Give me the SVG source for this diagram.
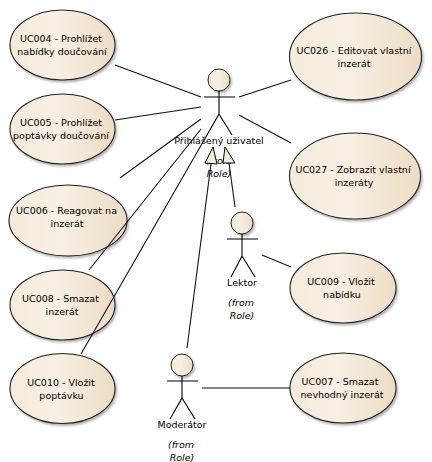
<svg xmlns="http://www.w3.org/2000/svg" width="432" height="462" viewBox="0 0 432 462">
<style>
text{font-family:"DejaVu Sans",Verdana,sans-serif;font-size:9.5px;fill:#000;text-anchor:middle}
.from{font-style:italic;font-size:9.5px}
.uc{fill:url(#g);stroke:#222;stroke-width:1.1;filter:url(#s)}
.head{fill:url(#g);stroke:#222;stroke-width:1;filter:url(#s)}
.l{stroke:#000;stroke-width:1.1;fill:none}
.c{stroke:#111;stroke-width:1.1;fill:none}
.tri{fill:#f6ecdd;stroke:#000;stroke-width:1}
</style>
<defs>
<linearGradient id="g" x1="0" y1="0" x2="1" y2="0"><stop offset="0" stop-color="#f5ebdc"/><stop offset=".45" stop-color="#f8f0e4"/><stop offset="1" stop-color="#eddcc4"/></linearGradient>
<filter id="s" x="-10%" y="-10%" width="125%" height="125%"><feDropShadow dx="1.5" dy="2" stdDeviation="1.2" flood-color="#000" flood-opacity=".3"/></filter>
</defs>
<rect width="432" height="462" fill="#fff"/>
<g id="UC004"><ellipse class="uc" cx="62.5" cy="45" rx="52.5" ry="35"/><text x="61" y="42">UC004 - Prohlížet</text><text x="62" y="55">nabídky doučování</text></g>
<g id="UC005"><ellipse class="uc" cx="62.5" cy="129" rx="52.5" ry="35"/><text x="61" y="126">UC005 - Prohlížet</text><text x="61" y="139">poptávky doučování</text></g>
<g id="UC006"><ellipse class="uc" cx="68" cy="220.5" rx="59" ry="35.5"/><text x="66.5" y="214">UC006 - Reagovat na</text><text x="67" y="227">inzerát</text></g>
<g id="UC008"><ellipse class="uc" cx="62.5" cy="305" rx="52.5" ry="35"/><text x="60.5" y="302">UC008 - Smazat</text><text x="62" y="315">inzerát</text></g>
<g id="UC010"><ellipse class="uc" cx="62.5" cy="388.5" rx="52.5" ry="35"/><text x="61" y="386">UC010 - Vložit</text><text x="61.5" y="399">poptávku</text></g>
<g id="UC026"><ellipse class="uc" cx="355.5" cy="56.5" rx="66" ry="43.5"/><text x="354" y="54">UC026 - Editovat vlastní</text><text x="354" y="67">inzerát</text></g>
<g id="UC027"><ellipse class="uc" cx="355" cy="176" rx="65.5" ry="43"/><text x="353" y="173">UC027 - Zobrazit vlastní</text><text x="354" y="186">inzeráty</text></g>
<g id="UC009"><ellipse class="uc" cx="343" cy="288" rx="53" ry="35"/><text x="341" y="285">UC009 - Vložit</text><text x="342" y="298">nabídku</text></g>
<g id="UC007"><ellipse class="uc" cx="343" cy="388" rx="53" ry="35"/><text x="340" y="385">UC007 - Smazat</text><text x="342" y="398">nevhodný inzerát</text></g>
<g id="actor-prihlaseny"><circle class="head" cx="219" cy="80" r="11"/><path class="l" d="M204 97H235M219 91V114L207 135M219 114L232 135"/><text x="219" y="144">Přihlášený uživatel</text><text class="from" x="219" y="164">(from</text><text class="from" x="219" y="177">Role)</text></g>
<g id="actor-lektor"><circle class="head" cx="242" cy="223" r="11"/><path class="l" d="M227 239H258M242 234V256L231 277M242 256L255 277"/><text x="242" y="286">Lektor</text><text class="from" x="241" y="306">(from</text><text class="from" x="242" y="319">Role)</text></g>
<g id="actor-moderator"><circle class="head" cx="182" cy="365" r="11"/><path class="l" d="M167 381H198M182 376V398L170 419M182 398L195 419"/><text x="182" y="428">Moderátor</text><text class="from" x="181" y="448">(from</text><text class="from" x="182" y="461">Role)</text></g>
<g id="connectors">
<path class="c" d="M115 65L201 97M115 120L201 107M120 178L201 119M89 270L201 129M81 354L207 135M239 97L291 80M239 115L291 143M262 255L291 267M202 388H290"/>
<path class="c" d="M211 164L187 348M229 163L235 207"/>
<polygon class="tri" points="213,147 205,163 217,164"/>
<polygon class="tri" points="225,147 223,163 235,163"/>
</g>
</svg>
